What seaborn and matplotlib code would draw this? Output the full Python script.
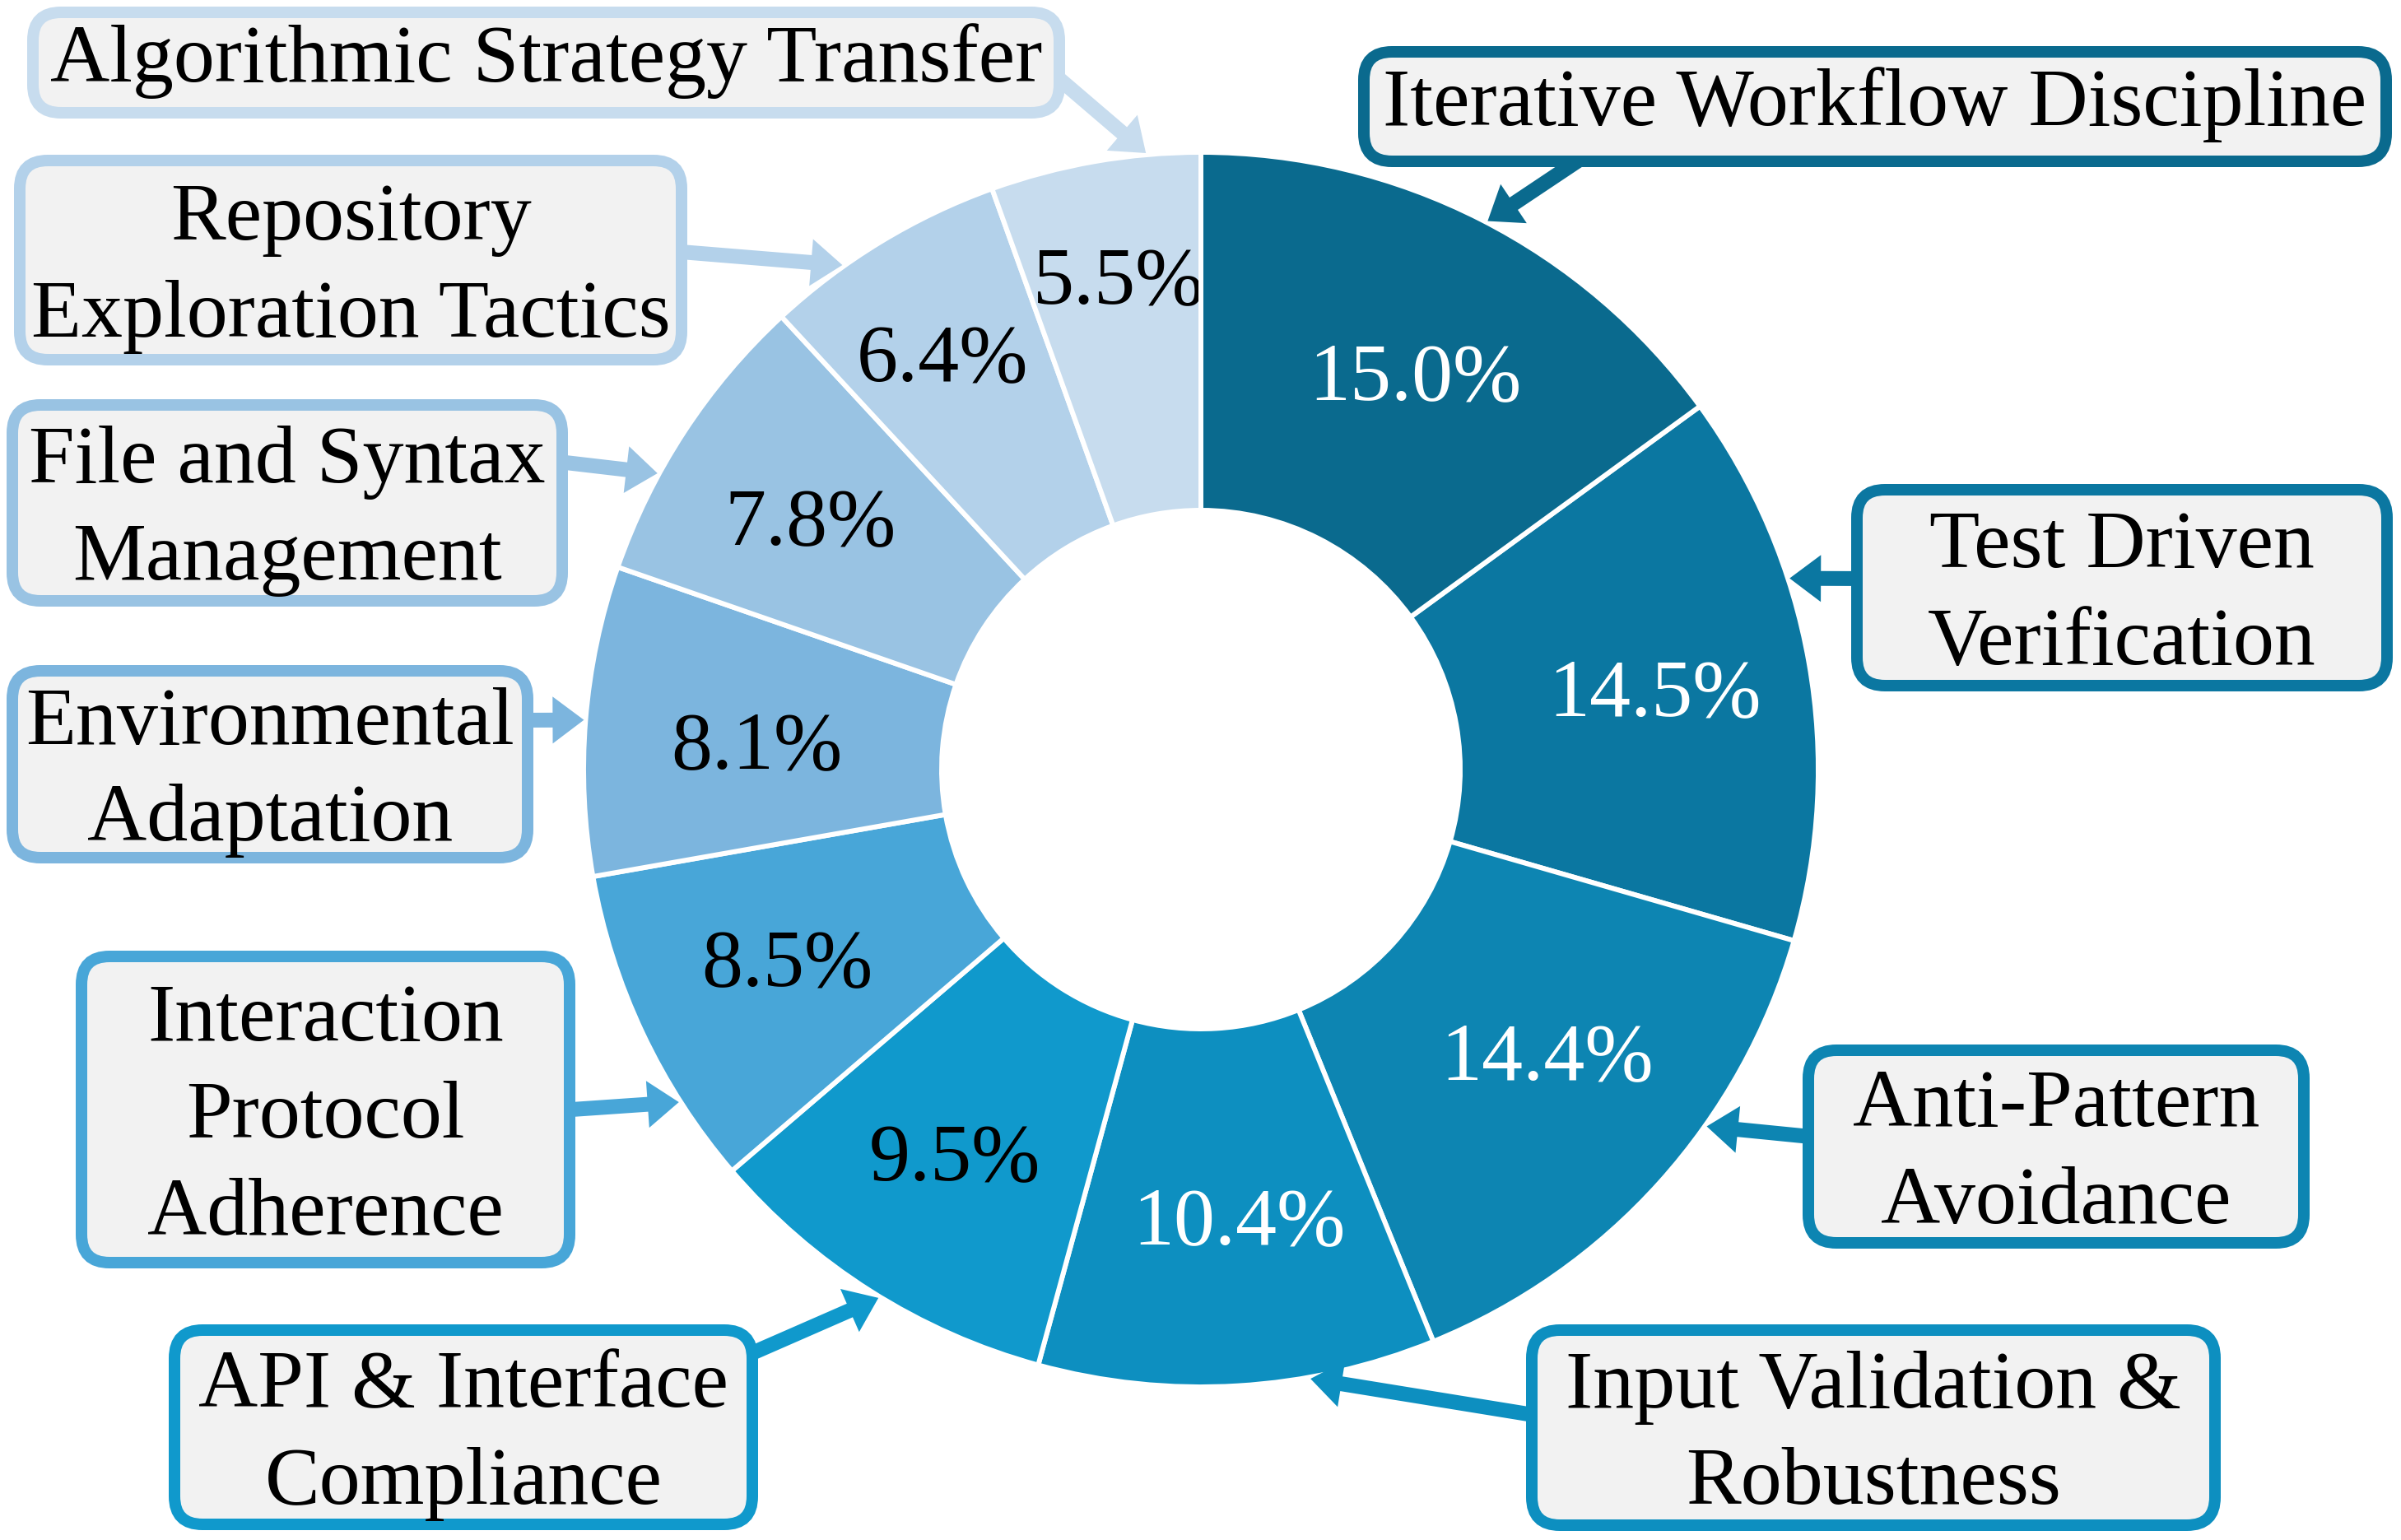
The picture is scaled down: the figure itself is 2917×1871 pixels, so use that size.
import numpy as np
import matplotlib
matplotlib.use("Agg")
import matplotlib.pyplot as plt
from matplotlib.patches import FancyBboxPatch, FancyArrowPatch
import seaborn as sns

# ---------------- data ----------------
categories = [
    "Iterative Workflow Discipline",
    "Test Driven\nVerification",
    "Anti-Pattern\nAvoidance",
    "Input Validation &\nRobustness",
    "API & Interface\nCompliance",
    "Interaction\nProtocol\nAdherence",
    "Environmental\nAdaptation",
    "File and Syntax\nManagement",
    "Repository\nExploration Tactics",
    "Algorithmic Strategy Transfer",
]
shares = [15.0, 14.5, 14.4, 10.4, 9.5, 8.5, 8.1, 7.8, 6.4, 5.5]
slice_colors = ["#0A6A8E", "#0B77A1", "#0D85B2", "#0D8FC0", "#1099CC",
                "#48A6D8", "#7CB5DE", "#99C3E3", "#B3D1EA", "#C7DCEE"]
pct_text_colors = ["white"] * 4 + ["black"] * 6

# ---------------- layout (image pixels, origin top-left) ----------------
W, H = 2917, 1871
CX, CY, R = 1459, 935, 750
HOLE = 0.42
pct_radius = [0.733, 0.747, 0.723, 0.725, 0.737, 0.737, 0.721, 0.753, 0.794, 0.811]
pct_angle_shift = [-1.3, 0.3, 2.9, 1.5, -0.4, -0.8, 0.8, 0.3, 0.5, -0.4]
box_extents = [  # x0, y0, x1, y1 (outer border)
    (1650, 56, 2906, 203),
    (2249, 588, 2907, 840),
    (2190, 1269, 2806, 1517),
    (1854, 1609, 2698, 1860),
    (205, 1609, 921, 1859),
    (92, 1155, 699, 1541),
    (8, 808, 648, 1049),
    (8, 485, 690, 737),
    (17, 188, 835, 444),
    (33, 8, 1294, 144),
]
arrow_starts = [
    (1925, 190), (2270, 703), (2210, 1382), (1875, 1721), (900, 1650),
    (680, 1349), (630, 875), (670, 560), (815, 305), (1280, 90),
]
arrow_tip_angles = [62.4, 18.0, -35.2, -79.8, -121.4, -147.5, 175.4, 151.4, 125.4, 95.1]

FS = 72
EM = FS * 100 / 72.0
BOX_LW_PX = 14
LINESPACING = 1.4


def to_data(x, y):
    return x, H - y


sns.set_theme(style="white")
plt.rcParams["font.family"] = ["Liberation Serif", "DejaVu Serif"]

fig = plt.figure(figsize=(W / 100, H / 100), dpi=100)
ax = fig.add_axes([0, 0, 1, 1])

wedges, _ = ax.pie(
    shares, colors=slice_colors, startangle=90, counterclock=False,
    radius=R, center=to_data(CX, CY),
    wedgeprops=dict(width=R * (1 - HOLE), edgecolor="white", linewidth=4.3),
)
ax.set_xlim(0, W)
ax.set_ylim(0, H)
ax.set_aspect("auto")
ax.axis("off")
wedges[0].set_zorder(2.5)

# percentage labels
for i, (w, v) in enumerate(zip(wedges, shares)):
    mid = np.deg2rad((w.theta1 + w.theta2) / 2 + pct_angle_shift[i])
    r = pct_radius[i] * R
    x = CX + r * np.cos(mid)
    y = CY - r * np.sin(mid)
    tx, ty = to_data(x, y + 0.1 * EM)
    ax.text(tx, ty, f"{v:.1f}%", ha="center", va="center", fontsize=FS,
            color=pct_text_colors[i], zorder=2 if i == len(shares) - 1 else 3)

# arrows
R_tip = R + 2
for i in range(len(categories)):
    a = np.deg2rad(arrow_tip_angles[i])
    tip = to_data(CX + R_tip * np.cos(a), CY - R_tip * np.sin(a))
    start = to_data(*arrow_starts[i])
    arr = FancyArrowPatch(
        start, tip,
        arrowstyle="simple,head_length=3.8,head_width=5.7,tail_width=1.8",
        mutation_scale=7.2, fc=slice_colors[i], ec="none", lw=0,
        shrinkA=0, shrinkB=0, zorder=4)
    ax.add_patch(arr)

# callout boxes
for i, (x0, y0, x1, y1) in enumerate(box_extents):
    ins = BOX_LW_PX / 2
    bx, by = to_data(x0 + ins, y1 - ins)
    bw = x1 - x0 - 2 * ins
    bh = y1 - y0 - 2 * ins
    patch = FancyBboxPatch((bx, by), bw, bh,
                           boxstyle="round,pad=0,rounding_size=34",
                           fc="#F2F2F2", ec=slice_colors[i],
                           lw=BOX_LW_PX * 72 / 100, zorder=5)
    ax.add_patch(patch)
    offset = 0.1 * EM if "\n" in categories[i] else -0.02 * EM
    tx, ty = to_data((x0 + x1) / 2, (y0 + y1) / 2 + offset)
    ax.text(tx, ty, categories[i], ha="center", va="center",
            multialignment="center", fontsize=FS, color="black",
            linespacing=LINESPACING, zorder=6)

fig.savefig("out.png", dpi=100)
